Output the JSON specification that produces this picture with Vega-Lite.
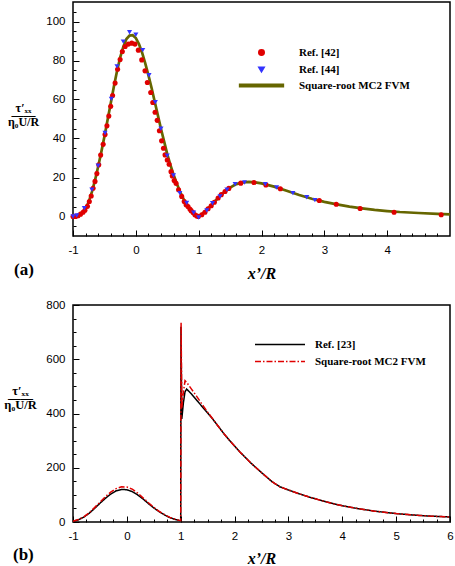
{
"$schema": "https://vega.github.io/schema/vega-lite/v6.json",
"background": "white",
"padding": {"left": 3, "top": 1, "right": 5, "bottom": 0},
"spacing": 69,
"bounds": "flush",
"resolve": {"scale": {"x": "independent", "y": "independent", "color": "independent", "shape": "independent", "strokeDash": "independent"}, "legend": {"color": "independent", "shape": "independent", "strokeDash": "independent"}},
"config": {
  "view": {"stroke": "black", "strokeWidth": 1.5},
  "axis": {"grid": false, "domain": false, "labelFont": "Liberation Sans", "labelFontSize": 11.5, "labelColor": "black", "tickColor": "black", "tickWidth": 1, "titleColor": "black", "labelFlush": false, "labelOverlap": false},
  "legend": {"labelFont": "Liberation Serif", "labelFontWeight": "bold", "labelFontSize": 11, "labelColor": "black", "padding": 0}
},
"datasets": {
  "fvmA": [
    {"x":-1,"y":0,"s":"Square-root MC2 FVM"},{"x":-0.95,"y":0.2,"s":"Square-root MC2 FVM"},{"x":-0.9,"y":0.8,"s":"Square-root MC2 FVM"},{"x":-0.85,"y":2,"s":"Square-root MC2 FVM"},{"x":-0.8,"y":4,"s":"Square-root MC2 FVM"},{"x":-0.75,"y":7.5,"s":"Square-root MC2 FVM"},{"x":-0.7,"y":12.5,"s":"Square-root MC2 FVM"},{"x":-0.65,"y":18.5,"s":"Square-root MC2 FVM"},{"x":-0.6,"y":25.5,"s":"Square-root MC2 FVM"},{"x":-0.55,"y":33,"s":"Square-root MC2 FVM"},{"x":-0.5,"y":41,"s":"Square-root MC2 FVM"},{"x":-0.45,"y":49.5,"s":"Square-root MC2 FVM"},{"x":-0.4,"y":58,"s":"Square-root MC2 FVM"},{"x":-0.35,"y":66.5,"s":"Square-root MC2 FVM"},{"x":-0.3,"y":74.5,"s":"Square-root MC2 FVM"},{"x":-0.25,"y":81.5,"s":"Square-root MC2 FVM"},{"x":-0.2,"y":87,"s":"Square-root MC2 FVM"},{"x":-0.15,"y":91,"s":"Square-root MC2 FVM"},{"x":-0.1,"y":92.8,"s":"Square-root MC2 FVM"},{"x":-0.05,"y":93,"s":"Square-root MC2 FVM"},{"x":0,"y":91.5,"s":"Square-root MC2 FVM"},{"x":0.05,"y":88.5,"s":"Square-root MC2 FVM"},{"x":0.1,"y":84,"s":"Square-root MC2 FVM"},{"x":0.15,"y":78.5,"s":"Square-root MC2 FVM"},{"x":0.2,"y":72.5,"s":"Square-root MC2 FVM"},{"x":0.25,"y":66,"s":"Square-root MC2 FVM"},{"x":0.3,"y":59,"s":"Square-root MC2 FVM"},{"x":0.35,"y":52,"s":"Square-root MC2 FVM"},{"x":0.4,"y":45,"s":"Square-root MC2 FVM"},{"x":0.45,"y":38.5,"s":"Square-root MC2 FVM"},{"x":0.5,"y":32,"s":"Square-root MC2 FVM"},{"x":0.55,"y":26.5,"s":"Square-root MC2 FVM"},{"x":0.6,"y":21.5,"s":"Square-root MC2 FVM"},{"x":0.65,"y":17,"s":"Square-root MC2 FVM"},{"x":0.7,"y":13,"s":"Square-root MC2 FVM"},{"x":0.75,"y":9.5,"s":"Square-root MC2 FVM"},{"x":0.8,"y":6.5,"s":"Square-root MC2 FVM"},{"x":0.85,"y":4,"s":"Square-root MC2 FVM"},{"x":0.9,"y":2.2,"s":"Square-root MC2 FVM"},{"x":0.95,"y":0.8,"s":"Square-root MC2 FVM"},{"x":1,"y":0,"s":"Square-root MC2 FVM"},{"x":1.05,"y":1.2,"s":"Square-root MC2 FVM"},{"x":1.1,"y":2.6,"s":"Square-root MC2 FVM"},{"x":1.2,"y":5.8,"s":"Square-root MC2 FVM"},{"x":1.3,"y":9.2,"s":"Square-root MC2 FVM"},{"x":1.4,"y":12.3,"s":"Square-root MC2 FVM"},{"x":1.5,"y":14.8,"s":"Square-root MC2 FVM"},{"x":1.6,"y":16.6,"s":"Square-root MC2 FVM"},{"x":1.7,"y":17.5,"s":"Square-root MC2 FVM"},{"x":1.8,"y":17.8,"s":"Square-root MC2 FVM"},{"x":1.9,"y":17.5,"s":"Square-root MC2 FVM"},{"x":2,"y":17,"s":"Square-root MC2 FVM"},{"x":2.2,"y":15.3,"s":"Square-root MC2 FVM"},{"x":2.4,"y":13.2,"s":"Square-root MC2 FVM"},{"x":2.6,"y":11,"s":"Square-root MC2 FVM"},{"x":2.8,"y":9.1,"s":"Square-root MC2 FVM"},{"x":3,"y":7.5,"s":"Square-root MC2 FVM"},{"x":3.2,"y":6.2,"s":"Square-root MC2 FVM"},{"x":3.4,"y":5.1,"s":"Square-root MC2 FVM"},{"x":3.6,"y":4.2,"s":"Square-root MC2 FVM"},{"x":3.8,"y":3.4,"s":"Square-root MC2 FVM"},{"x":4,"y":2.8,"s":"Square-root MC2 FVM"},{"x":4.2,"y":2.3,"s":"Square-root MC2 FVM"},{"x":4.5,"y":1.8,"s":"Square-root MC2 FVM"},{"x":4.8,"y":1.3,"s":"Square-root MC2 FVM"},{"x":5,"y":1.1,"s":"Square-root MC2 FVM"}
  ],
  "ptsA": [
    {"x":-1,"y":0,"s":"Ref. [42]"},{"x":-0.96,"y":0,"s":"Ref. [42]"},{"x":-0.92,"y":0.4,"s":"Ref. [42]"},{"x":-0.88,"y":1.2,"s":"Ref. [42]"},{"x":-0.84,"y":2.2,"s":"Ref. [42]"},{"x":-0.81,"y":3.2,"s":"Ref. [42]"},{"x":-0.77,"y":5.2,"s":"Ref. [42]"},{"x":-0.74,"y":7.7,"s":"Ref. [42]"},{"x":-0.71,"y":10.5,"s":"Ref. [42]"},{"x":-0.68,"y":14.5,"s":"Ref. [42]"},{"x":-0.65,"y":18,"s":"Ref. [42]"},{"x":-0.62,"y":22,"s":"Ref. [42]"},{"x":-0.59,"y":26.5,"s":"Ref. [42]"},{"x":-0.56,"y":31.5,"s":"Ref. [42]"},{"x":-0.52,"y":37,"s":"Ref. [42]"},{"x":-0.49,"y":42,"s":"Ref. [42]"},{"x":-0.46,"y":46.5,"s":"Ref. [42]"},{"x":-0.43,"y":51.5,"s":"Ref. [42]"},{"x":-0.4,"y":56.5,"s":"Ref. [42]"},{"x":-0.37,"y":62,"s":"Ref. [42]"},{"x":-0.33,"y":68.4,"s":"Ref. [42]"},{"x":-0.29,"y":75.5,"s":"Ref. [42]"},{"x":-0.25,"y":80.5,"s":"Ref. [42]"},{"x":-0.215,"y":84.6,"s":"Ref. [42]"},{"x":-0.17,"y":87.2,"s":"Ref. [42]"},{"x":-0.12,"y":88.4,"s":"Ref. [42]"},{"x":-0.065,"y":88.9,"s":"Ref. [42]"},{"x":-0.013,"y":88.4,"s":"Ref. [42]"},{"x":0.04,"y":85.3,"s":"Ref. [42]"},{"x":0.094,"y":80.3,"s":"Ref. [42]"},{"x":0.146,"y":74.7,"s":"Ref. [42]"},{"x":0.183,"y":68.7,"s":"Ref. [42]"},{"x":0.237,"y":63.6,"s":"Ref. [42]"},{"x":0.27,"y":58.5,"s":"Ref. [42]"},{"x":0.306,"y":53.5,"s":"Ref. [42]"},{"x":0.34,"y":49.3,"s":"Ref. [42]"},{"x":0.375,"y":44,"s":"Ref. [42]"},{"x":0.41,"y":38.8,"s":"Ref. [42]"},{"x":0.44,"y":35,"s":"Ref. [42]"},{"x":0.465,"y":31.6,"s":"Ref. [42]"},{"x":0.5,"y":29,"s":"Ref. [42]"},{"x":0.53,"y":26.8,"s":"Ref. [42]"},{"x":0.56,"y":23,"s":"Ref. [42]"},{"x":0.58,"y":20.8,"s":"Ref. [42]"},{"x":0.61,"y":18.5,"s":"Ref. [42]"},{"x":0.64,"y":17,"s":"Ref. [42]"},{"x":0.68,"y":13.7,"s":"Ref. [42]"},{"x":0.73,"y":10.3,"s":"Ref. [42]"},{"x":0.77,"y":7.7,"s":"Ref. [42]"},{"x":0.8,"y":6,"s":"Ref. [42]"},{"x":0.83,"y":5.1,"s":"Ref. [42]"},{"x":0.86,"y":3.8,"s":"Ref. [42]"},{"x":0.88,"y":3,"s":"Ref. [42]"},{"x":0.91,"y":2,"s":"Ref. [42]"},{"x":0.94,"y":0.9,"s":"Ref. [42]"},{"x":0.97,"y":0.3,"s":"Ref. [42]"},{"x":0.995,"y":0,"s":"Ref. [42]"},{"x":1.05,"y":0.9,"s":"Ref. [42]"},{"x":1.1,"y":2.2,"s":"Ref. [42]"},{"x":1.15,"y":4,"s":"Ref. [42]"},{"x":1.2,"y":5.5,"s":"Ref. [42]"},{"x":1.25,"y":7.3,"s":"Ref. [42]"},{"x":1.31,"y":9.5,"s":"Ref. [42]"},{"x":1.36,"y":11.2,"s":"Ref. [42]"},{"x":1.42,"y":12.8,"s":"Ref. [42]"},{"x":1.48,"y":14.4,"s":"Ref. [42]"},{"x":1.67,"y":17.1,"s":"Ref. [42]"},{"x":1.88,"y":17.4,"s":"Ref. [42]"},{"x":2.07,"y":16.2,"s":"Ref. [42]"},{"x":2.3,"y":14.2,"s":"Ref. [42]"},{"x":2.92,"y":8.2,"s":"Ref. [42]"},{"x":3.19,"y":6.3,"s":"Ref. [42]"},{"x":3.57,"y":4.1,"s":"Ref. [42]"},{"x":4.11,"y":2.2,"s":"Ref. [42]"},{"x":4.86,"y":0.9,"s":"Ref. [42]"},
    {"x":-1,"y":0,"s":"Ref. [44]"},{"x":-0.94,"y":0.5,"s":"Ref. [44]"},{"x":-0.82,"y":4.3,"s":"Ref. [44]"},{"x":-0.7,"y":13.8,"s":"Ref. [44]"},{"x":-0.6,"y":26,"s":"Ref. [44]"},{"x":-0.49,"y":42.8,"s":"Ref. [44]"},{"x":-0.39,"y":60.3,"s":"Ref. [44]"},{"x":-0.3,"y":77,"s":"Ref. [44]"},{"x":-0.2,"y":89.7,"s":"Ref. [44]"},{"x":-0.1,"y":94.5,"s":"Ref. [44]"},{"x":0,"y":93.2,"s":"Ref. [44]"},{"x":0.11,"y":85.3,"s":"Ref. [44]"},{"x":0.21,"y":72.4,"s":"Ref. [44]"},{"x":0.31,"y":58.6,"s":"Ref. [44]"},{"x":0.4,"y":45,"s":"Ref. [44]"},{"x":0.5,"y":31.2,"s":"Ref. [44]"},{"x":0.6,"y":21,"s":"Ref. [44]"},{"x":0.7,"y":12,"s":"Ref. [44]"},{"x":0.81,"y":7,"s":"Ref. [44]"},{"x":0.92,"y":2,"s":"Ref. [44]"},{"x":1,"y":-0.5,"s":"Ref. [44]"},{"x":1.13,"y":3.1,"s":"Ref. [44]"},{"x":1.22,"y":6.8,"s":"Ref. [44]"},{"x":1.34,"y":10.3,"s":"Ref. [44]"},{"x":1.45,"y":13.7,"s":"Ref. [44]"},{"x":1.58,"y":16.6,"s":"Ref. [44]"},{"x":1.73,"y":17.4,"s":"Ref. [44]"},{"x":2.06,"y":16.6,"s":"Ref. [44]"},{"x":2.24,"y":14.9,"s":"Ref. [44]"},{"x":2.5,"y":12,"s":"Ref. [44]"},{"x":2.72,"y":9.9,"s":"Ref. [44]"},{"x":2.85,"y":8.4,"s":"Ref. [44]"}
  ],
  "lineB": [
    {"x":-1,"y":3,"s":"Ref. [23]"},{"x":-0.9,"y":8,"s":"Ref. [23]"},{"x":-0.8,"y":18,"s":"Ref. [23]"},{"x":-0.7,"y":32,"s":"Ref. [23]"},{"x":-0.6,"y":50,"s":"Ref. [23]"},{"x":-0.5,"y":69,"s":"Ref. [23]"},{"x":-0.4,"y":87,"s":"Ref. [23]"},{"x":-0.3,"y":103,"s":"Ref. [23]"},{"x":-0.2,"y":115,"s":"Ref. [23]"},{"x":-0.1,"y":120,"s":"Ref. [23]"},{"x":0,"y":119,"s":"Ref. [23]"},{"x":0.1,"y":112,"s":"Ref. [23]"},{"x":0.2,"y":100,"s":"Ref. [23]"},{"x":0.3,"y":85,"s":"Ref. [23]"},{"x":0.4,"y":68,"s":"Ref. [23]"},{"x":0.5,"y":52,"s":"Ref. [23]"},{"x":0.6,"y":38,"s":"Ref. [23]"},{"x":0.7,"y":26,"s":"Ref. [23]"},{"x":0.8,"y":16,"s":"Ref. [23]"},{"x":0.9,"y":9,"s":"Ref. [23]"},{"x":0.97,"y":6,"s":"Ref. [23]"},{"x":1,"y":5,"s":"Ref. [23]"},{"x":1.005,"y":720,"s":"Ref. [23]"},{"x":1.02,"y":380,"s":"Ref. [23]"},{"x":1.05,"y":440,"s":"Ref. [23]"},{"x":1.08,"y":480,"s":"Ref. [23]"},{"x":1.11,"y":490,"s":"Ref. [23]"},{"x":1.2,"y":472,"s":"Ref. [23]"},{"x":1.3,"y":448,"s":"Ref. [23]"},{"x":1.4,"y":425,"s":"Ref. [23]"},{"x":1.5,"y":402,"s":"Ref. [23]"},{"x":1.6,"y":378,"s":"Ref. [23]"},{"x":1.7,"y":352,"s":"Ref. [23]"},{"x":1.8,"y":326,"s":"Ref. [23]"},{"x":1.9,"y":302,"s":"Ref. [23]"},{"x":2,"y":280,"s":"Ref. [23]"},{"x":2.1,"y":258,"s":"Ref. [23]"},{"x":2.2,"y":238,"s":"Ref. [23]"},{"x":2.3,"y":218,"s":"Ref. [23]"},{"x":2.4,"y":200,"s":"Ref. [23]"},{"x":2.5,"y":182,"s":"Ref. [23]"},{"x":2.6,"y":165,"s":"Ref. [23]"},{"x":2.7,"y":148,"s":"Ref. [23]"},{"x":2.84,"y":130,"s":"Ref. [23]"},{"x":3,"y":118,"s":"Ref. [23]"},{"x":3.2,"y":104,"s":"Ref. [23]"},{"x":3.4,"y":91,"s":"Ref. [23]"},{"x":3.6,"y":80,"s":"Ref. [23]"},{"x":3.8,"y":69,"s":"Ref. [23]"},{"x":4,"y":60,"s":"Ref. [23]"},{"x":4.3,"y":49,"s":"Ref. [23]"},{"x":4.6,"y":40,"s":"Ref. [23]"},{"x":5,"y":31,"s":"Ref. [23]"},{"x":5.3,"y":26,"s":"Ref. [23]"},{"x":5.6,"y":22,"s":"Ref. [23]"},{"x":6,"y":18.5,"s":"Ref. [23]"},
    {"x":-1,"y":3,"s":"Square-root MC2 FVM"},{"x":-0.9,"y":9,"s":"Square-root MC2 FVM"},{"x":-0.8,"y":19,"s":"Square-root MC2 FVM"},{"x":-0.7,"y":34,"s":"Square-root MC2 FVM"},{"x":-0.6,"y":53,"s":"Square-root MC2 FVM"},{"x":-0.5,"y":73,"s":"Square-root MC2 FVM"},{"x":-0.4,"y":93,"s":"Square-root MC2 FVM"},{"x":-0.3,"y":110,"s":"Square-root MC2 FVM"},{"x":-0.2,"y":123,"s":"Square-root MC2 FVM"},{"x":-0.1,"y":130,"s":"Square-root MC2 FVM"},{"x":0,"y":129,"s":"Square-root MC2 FVM"},{"x":0.1,"y":121,"s":"Square-root MC2 FVM"},{"x":0.2,"y":107,"s":"Square-root MC2 FVM"},{"x":0.3,"y":89,"s":"Square-root MC2 FVM"},{"x":0.4,"y":71,"s":"Square-root MC2 FVM"},{"x":0.5,"y":54,"s":"Square-root MC2 FVM"},{"x":0.6,"y":39,"s":"Square-root MC2 FVM"},{"x":0.7,"y":27,"s":"Square-root MC2 FVM"},{"x":0.8,"y":17,"s":"Square-root MC2 FVM"},{"x":0.9,"y":10,"s":"Square-root MC2 FVM"},{"x":0.97,"y":6,"s":"Square-root MC2 FVM"},{"x":1,"y":5,"s":"Square-root MC2 FVM"},{"x":1.007,"y":735,"s":"Square-root MC2 FVM"},{"x":1.02,"y":420,"s":"Square-root MC2 FVM"},{"x":1.05,"y":480,"s":"Square-root MC2 FVM"},{"x":1.08,"y":521,"s":"Square-root MC2 FVM"},{"x":1.11,"y":515,"s":"Square-root MC2 FVM"},{"x":1.2,"y":490,"s":"Square-root MC2 FVM"},{"x":1.3,"y":462,"s":"Square-root MC2 FVM"},{"x":1.4,"y":433,"s":"Square-root MC2 FVM"},{"x":1.5,"y":405,"s":"Square-root MC2 FVM"},{"x":1.6,"y":379,"s":"Square-root MC2 FVM"},{"x":1.7,"y":352,"s":"Square-root MC2 FVM"},{"x":1.8,"y":326,"s":"Square-root MC2 FVM"},{"x":1.9,"y":302,"s":"Square-root MC2 FVM"},{"x":2,"y":280,"s":"Square-root MC2 FVM"},{"x":2.1,"y":258,"s":"Square-root MC2 FVM"},{"x":2.2,"y":238,"s":"Square-root MC2 FVM"},{"x":2.3,"y":218,"s":"Square-root MC2 FVM"},{"x":2.4,"y":200,"s":"Square-root MC2 FVM"},{"x":2.5,"y":182,"s":"Square-root MC2 FVM"},{"x":2.6,"y":165,"s":"Square-root MC2 FVM"},{"x":2.7,"y":148,"s":"Square-root MC2 FVM"},{"x":2.84,"y":130,"s":"Square-root MC2 FVM"},{"x":3,"y":118,"s":"Square-root MC2 FVM"},{"x":3.2,"y":104,"s":"Square-root MC2 FVM"},{"x":3.4,"y":91,"s":"Square-root MC2 FVM"},{"x":3.6,"y":80,"s":"Square-root MC2 FVM"},{"x":3.8,"y":69,"s":"Square-root MC2 FVM"},{"x":4,"y":60,"s":"Square-root MC2 FVM"},{"x":4.3,"y":49,"s":"Square-root MC2 FVM"},{"x":4.6,"y":40,"s":"Square-root MC2 FVM"},{"x":5,"y":31,"s":"Square-root MC2 FVM"},{"x":5.3,"y":26,"s":"Square-root MC2 FVM"},{"x":5.6,"y":22,"s":"Square-root MC2 FVM"},{"x":6,"y":18.5,"s":"Square-root MC2 FVM"}
  ]
},
"vconcat": [
  {
    "width": 377, "height": 234,
    "title": {"text": "(a)", "orient": "bottom", "anchor": "start", "frame": "group", "font": "Liberation Serif", "fontSize": 17, "fontWeight": "bold", "color": "black", "dx": -59, "offset": -20},
    "encoding": {
      "x": {"field": "x", "type": "quantitative", "scale": {"domain": [-1, 5], "nice": false, "zero": false},
            "axis": {"values": [-1,-0.8,-0.6,-0.4,-0.2,0,0.2,0.4,0.6,0.8,1,1.2,1.4,1.6,1.8,2,2.2,2.4,2.6,2.8,3,3.2,3.4,3.6,3.8,4,4.2,4.4,4.6,4.8],
                     "labelOverlap": false, "labelFlush": false,
                     "labelExpr": "abs(datum.value - round(datum.value)) < 0.001 ? toString(round(datum.value)) : ''",
                     "tickSize": {"condition": {"test": "abs(datum.value - round(datum.value)) < 0.001", "value": -6}, "value": -3},
                     "labelPadding": 14,
                     "title": "x’/R", "titleFont": "Liberation Serif", "titleFontStyle": "italic", "titleFontWeight": "bold", "titleFontSize": 16, "titlePadding": 7}},
      "y": {"field": "y", "type": "quantitative", "scale": {"domain": [-10, 110], "nice": false, "zero": false},
            "axis": {"values": [-5,0,5,10,15,20,25,30,35,40,45,50,55,60,65,70,75,80,85,90,95,100,105],
                     "labelOverlap": false, "labelFlush": false,
                     "labelExpr": "datum.value % 20 === 0 ? toString(datum.value) : ''",
                     "tickSize": {"condition": {"test": "datum.value % 20 === 0", "value": -6}, "value": -3},
                     "labelPadding": 14,
                     "title": ["τ′ₓₓ", "——", "η₀U/R"], "titleAngle": 0, "titleFont": "Liberation Serif", "titleFontWeight": "bold", "titleFontSize": 12, "titleLineHeight": 7, "titleAlign": "center", "titleBaseline": "alphabetic", "titleX": -50, "titleY": 109}}
    },
    "layer": [
      {
        "data": {"name": "fvmA"},
        "mark": {"type": "line", "strokeWidth": 2.7},
        "encoding": {
          "color": {"field": "s", "type": "nominal",
                    "scale": {"domain": ["Ref. [42]", "Ref. [44]", "Square-root MC2 FVM"], "range": ["#e00000", "#3333ff", "#666600"]},
                    "legend": {"title": null, "orient": "none", "legendX": 183, "legendY": 45, "symbolSize": 30, "labelOffset": 32, "rowPadding": 4}}
        }
      },
      {
        "data": {"name": "ptsA"},
        "mark": {"type": "point", "filled": true, "opacity": 1, "size": 26},
        "encoding": {
          "color": {"field": "s", "type": "nominal"},
          "shape": {"field": "s", "type": "nominal",
                    "scale": {"domain": ["Ref. [42]", "Ref. [44]", "Square-root MC2 FVM"], "range": ["circle", "triangle-down", "M-8,-0.45H8V0.45H-8Z"]},
                    "legend": {"title": null, "orient": "none", "legendX": 183, "legendY": 45, "symbolSize": 30, "labelOffset": 32, "rowPadding": 4}}
        }
      }
    ]
  },
  {
    "width": 377, "height": 217,
    "title": {"text": "(b)", "orient": "bottom", "anchor": "start", "frame": "group", "font": "Liberation Serif", "fontSize": 17, "fontWeight": "bold", "color": "black", "dx": -60, "offset": -20},
    "data": {"name": "lineB"},
    "mark": {"type": "line", "strokeWidth": 1.5},
    "encoding": {
      "x": {"field": "x", "type": "quantitative", "scale": {"domain": [-1, 6], "nice": false, "zero": false},
            "axis": {"values": [-1,-0.75,-0.5,-0.25,0,0.25,0.5,0.75,1,1.25,1.5,1.75,2,2.25,2.5,2.75,3,3.25,3.5,3.75,4,4.25,4.5,4.75,5,5.25,5.5,5.75,6],
                     "labelOverlap": false, "labelFlush": false,
                     "labelExpr": "abs(datum.value - round(datum.value)) < 0.001 ? toString(round(datum.value)) : ''",
                     "tickSize": {"condition": {"test": "abs(datum.value - round(datum.value)) < 0.001", "value": -6}, "value": -3},
                     "labelPadding": 14,
                     "title": "x’/R", "titleFont": "Liberation Serif", "titleFontStyle": "italic", "titleFontWeight": "bold", "titleFontSize": 16, "titlePadding": 6}},
      "y": {"field": "y", "type": "quantitative", "scale": {"domain": [0, 800], "nice": false, "zero": false},
            "axis": {"values": [0,50,100,150,200,250,300,350,400,450,500,550,600,650,700,750,800],
                     "labelOverlap": false, "labelFlush": false,
                     "labelExpr": "datum.value % 200 === 0 ? toString(datum.value) : ''",
                     "tickSize": {"condition": {"test": "datum.value % 200 === 0", "value": -6}, "value": -3},
                     "labelPadding": 14,
                     "title": ["τ′ₓₓ", "——", "η₀U/R"], "titleAngle": 0, "titleFont": "Liberation Serif", "titleFontWeight": "bold", "titleFontSize": 12.5, "titleLineHeight": 7, "titleAlign": "center", "titleBaseline": "alphabetic", "titleX": -53, "titleY": 89}},
      "color": {"field": "s", "type": "nominal",
                "scale": {"domain": ["Ref. [23]", "Square-root MC2 FVM"], "range": ["black", "#e00000"]},
                "legend": {"title": null, "orient": "none", "legendX": 201, "legendY": 33.5, "symbolType": "M-5,0H5", "symbolSize": 100, "symbolStrokeWidth": 1.5, "labelOffset": 29, "rowPadding": 6}},
      "strokeDash": {"field": "s", "type": "nominal",
                "scale": {"domain": ["Ref. [23]", "Square-root MC2 FVM"], "range": [[1, 0], [6, 2, 1.5, 2]]},
                "legend": {"title": null, "orient": "none", "legendX": 201, "legendY": 33.5, "symbolType": "M-5,0H5", "symbolSize": 100, "symbolStrokeWidth": 1.5, "labelOffset": 29, "rowPadding": 6}}
    }
  }
]
}
